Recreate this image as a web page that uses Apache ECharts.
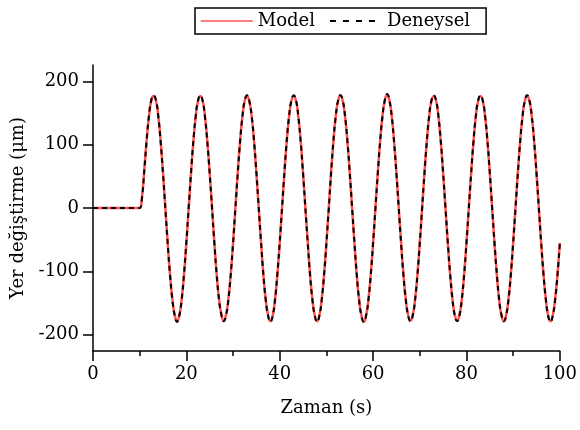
<!DOCTYPE html>
<html>
<head>
<meta charset="utf-8">
<script src="https://cdn.jsdelivr.net/npm/echarts@6/dist/echarts.min.js"></script>
<style>html,body{margin:0;padding:0;background:#fff}#c{width:580px;height:430px}</style>
</head>
<body>
<div id="c"></div>
<script>
const seriesNames = ['Model', 'Deneysel'];
const yTicks = [-200, -100, 0, 100, 200];

const time = [
  0, 9.5, 10, 10.5, 11, 11.5, 12, 12.5,
  13, 13.5, 14, 14.5, 15, 15.5, 16, 16.5, 17, 17.5, 18, 18.5, 19, 19.5, 20, 20.5, 21, 21.5, 22, 22.5,
  23, 23.5, 24, 24.5, 25, 25.5, 26, 26.5, 27, 27.5, 28, 28.5, 29, 29.5, 30, 30.5, 31, 31.5, 32, 32.5,
  33, 33.5, 34, 34.5, 35, 35.5, 36, 36.5, 37, 37.5, 38, 38.5, 39, 39.5, 40, 40.5, 41, 41.5, 42, 42.5,
  43, 43.5, 44, 44.5, 45, 45.5, 46, 46.5, 47, 47.5, 48, 48.5, 49, 49.5, 50, 50.5, 51, 51.5, 52, 52.5,
  53, 53.5, 54, 54.5, 55, 55.5, 56, 56.5, 57, 57.5, 58, 58.5, 59, 59.5, 60, 60.5, 61, 61.5, 62, 62.5,
  63, 63.5, 64, 64.5, 65, 65.5, 66, 66.5, 67, 67.5, 68, 68.5, 69, 69.5, 70, 70.5, 71, 71.5, 72, 72.5,
  73, 73.5, 74, 74.5, 75, 75.5, 76, 76.5, 77, 77.5, 78, 78.5, 79, 79.5, 80, 80.5, 81, 81.5, 82, 82.5,
  83, 83.5, 84, 84.5, 85, 85.5, 86, 86.5, 87, 87.5, 88, 88.5, 89, 89.5, 90, 90.5, 91, 91.5, 92, 92.5,
  93, 93.5, 94, 94.5, 95, 95.5, 96, 96.5, 97, 97.5, 98, 98.5, 99, 99.5, 100
];

const model = [
  0, 0, 0, 18, 62, 108, 146, 170,
  177, 169, 144, 105, 55, 0, -55, -105, -144, -169, -179, -169, -144, -105, -55, 0, 55, 105, 144, 169,
  177, 169, 144, 104, 55, 1, -55, -105, -144, -168, -178, -169, -144, -105, -56, 0, 55, 105, 144, 169,
  177, 168, 144, 105, 55, 0, -55, -106, -145, -169, -179, -170, -144, -105, -55, 0, 55, 105, 144, 169,
  177, 169, 143, 105, 55, 0, -54, -105, -144, -170, -179, -169, -144, -105, -55, 0, 56, 105, 145, 169,
  178, 169, 144, 105, 55, 0, -55, -106, -145, -170, -180, -170, -145, -105, -55, 0, 55, 105, 145, 170,
  179, 170, 145, 105, 55, 0, -55, -105, -144, -169, -178, -169, -144, -105, -55, 0, 55, 105, 144, 169,
  177, 169, 144, 105, 55, 0, -55, -105, -144, -169, -178, -169, -144, -105, -55, 0, 55, 104, 144, 169,
  177, 169, 144, 105, 55, 0, -55, -105, -145, -170, -179, -169, -144, -105, -55, 0, 55, 105, 144, 169,
  177, 169, 144, 105, 55, 0, -55, -105, -144, -170, -179, -169, -144, -105, -55
];

const deneysel = [
  0, 0, 0, 16, 60, 107, 146, 171,
  178, 170, 144, 104, 54, -1, -56, -106, -145, -170, -180, -170, -145, -104, -54, 1, 56, 106, 145, 170,
  178, 169, 143, 104, 54, 0, -56, -106, -145, -169, -179, -170, -145, -106, -56, -1, 54, 104, 144, 170,
  178, 169, 145, 106, 56, 1, -54, -105, -145, -170, -180, -170, -145, -104, -54, 1, 56, 106, 145, 170,
  178, 170, 144, 104, 54, -1, -55, -106, -145, -170, -180, -170, -145, -106, -56, -1, 55, 106, 145, 170,
  178, 170, 145, 106, 56, 1, -54, -105, -145, -170, -180, -170, -145, -106, -56, -1, 54, 104, 144, 170,
  180, 170, 144, 104, 54, -1, -56, -106, -145, -170, -179, -170, -145, -106, -56, -1, 54, 104, 145, 170,
  178, 170, 145, 106, 56, 1, -54, -104, -144, -170, -179, -170, -145, -106, -56, -1, 54, 105, 145, 170,
  178, 170, 145, 106, 56, 1, -54, -104, -144, -169, -179, -170, -145, -106, -56, -1, 54, 104, 144, 169,
  178, 170, 145, 106, 56, 1, -54, -104, -144, -170, -180, -170, -145, -106, -56
];

const FONT = 'DejaVu Serif';
const chart = echarts.init(document.getElementById('c'), null, {renderer: 'canvas'});
const pairs = (ys) => time.map((t, i) => [t, ys[i]]);

chart.setOption({
  animation: false,
  backgroundColor: '#fff',
  textStyle: {fontFamily: FONT, color: '#000'},
  legend: {
    left: 195, top: 8,
    padding: [4, 16, 4, 5],
    itemWidth: 52, itemHeight: 14, itemGap: 14,
    borderColor: '#000', borderWidth: 1.5,
    itemStyle: {opacity: 0, borderWidth: 0},
    textStyle: {fontFamily: FONT, fontSize: 18, color: '#000'},
    data: [
      {name: seriesNames[0], lineStyle: {color: '#ff5050', width: 1.5}},
      {name: seriesNames[1], lineStyle: {color: '#000', width: 2, type: [6, 7]}}
    ]
  },
  grid: {left: 93, right: 19, top: 65, bottom: 79, containLabel: false},
  xAxis: {
    type: 'value', min: 0, max: 100, interval: 20,
    name: 'Zaman (s)', nameLocation: 'middle', nameGap: 48,
    nameTextStyle: {fontFamily: FONT, fontSize: 18, color: '#000'},
    axisLine: {show: true, onZero: false, lineStyle: {color: '#000', width: 1.5}},
    axisTick: {show: true, inside: false, length: 10, lineStyle: {color: '#000', width: 1.5}},
    minorTick: {show: true, splitNumber: 2, length: 5, lineStyle: {color: '#000', width: 1.5}},
    axisLabel: {fontFamily: FONT, fontSize: 18, color: '#000', margin: 14},
    splitLine: {show: false}
  },
  yAxis: {
    type: 'value', min: -226, max: 226,
    name: 'Yer değiştirme (μm)', nameLocation: 'middle', nameGap: 66, nameRotate: 90,
    nameTextStyle: {fontFamily: FONT, fontSize: 18, color: '#000'},
    axisLine: {show: true, onZero: false, lineStyle: {color: '#000', width: 1.5}},
    axisTick: {show: true, inside: false, length: 10, customValues: yTicks, lineStyle: {color: '#000', width: 1.5}},
    axisLabel: {fontFamily: FONT, fontSize: 18, color: '#000', margin: 14, customValues: yTicks},
    splitLine: {show: false}
  },
  series: [
    {
      name: seriesNames[0], type: 'line', data: pairs(model),
      smooth: 0.5, symbol: 'none', showSymbol: false,
      lineStyle: {color: '#ff5050', width: 2.5},
      itemStyle: {color: '#ff5050'}
    },
    {
      name: seriesNames[1], type: 'line', data: pairs(deneysel),
      smooth: 0.5, symbol: 'none', showSymbol: false,
      lineStyle: {color: '#000', width: 2, type: [5, 4]},
      itemStyle: {color: '#000'}
    }
  ]
});
</script>
</body>
</html>
